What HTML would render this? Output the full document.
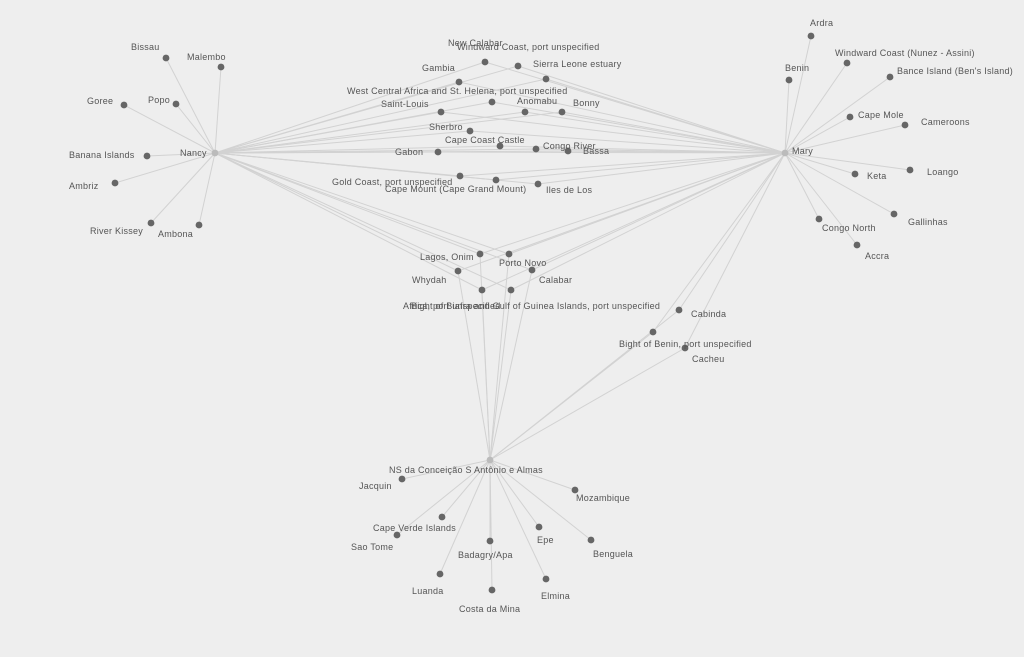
<!DOCTYPE html>
<html><head><meta charset="utf-8"><style>
html,body{margin:0;padding:0;background:#eeeeee;width:1024px;height:657px;overflow:hidden}
svg text{font-family:"Liberation Sans",sans-serif;font-size:9px;letter-spacing:0.25px;fill:#555}
</style></head><body>
<svg id="g" width="1024" height="657" xmlns="http://www.w3.org/2000/svg">
<g id="edges" stroke="#d2d2d2" stroke-width="1"></g>
<g id="dots"></g>
<g>
<text x="131" y="50">Bissau</text>
<text x="187" y="60">Malembo</text>
<text x="87" y="104">Goree</text>
<text x="148" y="103">Popo</text>
<text x="69" y="158">Banana Islands</text>
<text x="69" y="189">Ambriz</text>
<text x="90" y="234">River Kissey</text>
<text x="158" y="237">Ambona</text>
<text x="180" y="156">Nancy</text>
<text x="810" y="26">Ardra</text>
<text x="835" y="56">Windward Coast (Nunez - Assini)</text>
<text x="785" y="71">Benin</text>
<text x="897" y="74">Bance Island (Ben's Island)</text>
<text x="858" y="118">Cape Mole</text>
<text x="921" y="125">Cameroons</text>
<text x="792" y="154">Mary</text>
<text x="867" y="179">Keta</text>
<text x="927" y="175">Loango</text>
<text x="908" y="225">Gallinhas</text>
<text x="822" y="231">Congo North</text>
<text x="865" y="259">Accra</text>
<text x="448" y="46">New Calabar</text>
<text x="457" y="50">Windward Coast, port unspecified</text>
<text x="422" y="71">Gambia</text>
<text x="533" y="67">Sierra Leone estuary</text>
<text x="347" y="94">West Central Africa and St. Helena, port unspecified</text>
<text x="381" y="107">Saint-Louis</text>
<text x="517" y="104">Anomabu</text>
<text x="573" y="106">Bonny</text>
<text x="429" y="130">Sherbro</text>
<text x="445" y="143">Cape Coast Castle</text>
<text x="543" y="149">Congo River</text>
<text x="583" y="154">Bassa</text>
<text x="395" y="155">Gabon</text>
<text x="332" y="185">Gold Coast, port unspecified</text>
<text x="385" y="192">Cape Mount (Cape Grand Mount)</text>
<text x="546" y="193">Iles de Los</text>
<text x="420" y="260">Lagos, Onim</text>
<text x="499" y="266">Porto Novo</text>
<text x="412" y="283">Whydah</text>
<text x="539" y="283">Calabar</text>
<text x="403" y="309">Africa, port unspecified</text>
<text x="411" y="309">Bight of Biafra and Gulf of Guinea Islands, port unspecified</text>
<text x="691" y="317">Cabinda</text>
<text x="619" y="347">Bight of Benin, port unspecified</text>
<text x="692" y="362">Cacheu</text>
<text x="389" y="473">NS da Conceição S Antônio e Almas</text>
<text x="359" y="489">Jacquin</text>
<text x="576" y="501">Mozambique</text>
<text x="373" y="531">Cape Verde Islands</text>
<text x="351" y="550">Sao Tome</text>
<text x="458" y="558">Badagry/Apa</text>
<text x="537" y="543">Epe</text>
<text x="593" y="557">Benguela</text>
<text x="412" y="594">Luanda</text>
<text x="459" y="612">Costa da Mina</text>
<text x="541" y="599">Elmina</text>
</g>
</svg>
<script>
var N=[215,153],M=[785,153],A=[490,460];
var nodes=[
[[166,58],[N]],[[221,67],[N]],[[124,105],[N]],[[176,104],[N]],[[147,156],[N]],[[115,183],[N]],[[151,223],[N]],[[199,225],[N]],
[[811,36],[M]],[[847,63],[M]],[[789,80],[M]],[[890,77],[M]],[[850,117],[M]],[[905,125],[M]],[[855,174],[M]],[[910,170],[M]],[[894,214],[M]],[[819,219],[M]],[[857,245],[M]],
[[485,62],[N,M]],[[518,66],[N,M]],[[459,82],[N,M]],[[546,79],[N,M]],[[492,102],[N,M]],[[441,112],[N,M]],[[525,112],[N,M]],[[562,112],[N,M]],[[470,131],[N,M]],[[500,146],[N,M]],[[536,149],[N,M]],[[568,151],[N,M]],[[438,152],[N,M]],[[460,176],[N,M]],[[496,180],[N,M]],[[538,184],[N,M]],
[[480,254],[N,M,A]],[[509,254],[N,M,A]],[[458,271],[N,M,A]],[[532,270],[N,M,A]],[[482,290],[N,M,A]],[[511,290],[N,M,A]],
[[679,310],[M,A]],[[653,332],[M,A]],[[685,348],[M,A]],
[[402,479],[A]],[[575,490],[A]],[[442,517],[A]],[[397,535],[A]],[[490,541],[A]],[[539,527],[A]],[[591,540],[A]],[[440,574],[A]],[[492,590],[A]],[[546,579],[A]]
];
var ns="http://www.w3.org/2000/svg",E=document.getElementById("edges"),D=document.getElementById("dots");
function el(p,t,a){var e=document.createElementNS(ns,t);for(var k in a)e.setAttribute(k,a[k]);p.appendChild(e);}
nodes.forEach(function(n){n[1].forEach(function(h){el(E,"line",{x1:n[0][0],y1:n[0][1],x2:h[0],y2:h[1]});});el(D,"circle",{cx:n[0][0],cy:n[0][1],r:3.4,fill:"#666"});});
[N,M,A].forEach(function(h){el(D,"circle",{cx:h[0],cy:h[1],r:3.4,fill:"#bbb"});});
</script>
</body></html>
